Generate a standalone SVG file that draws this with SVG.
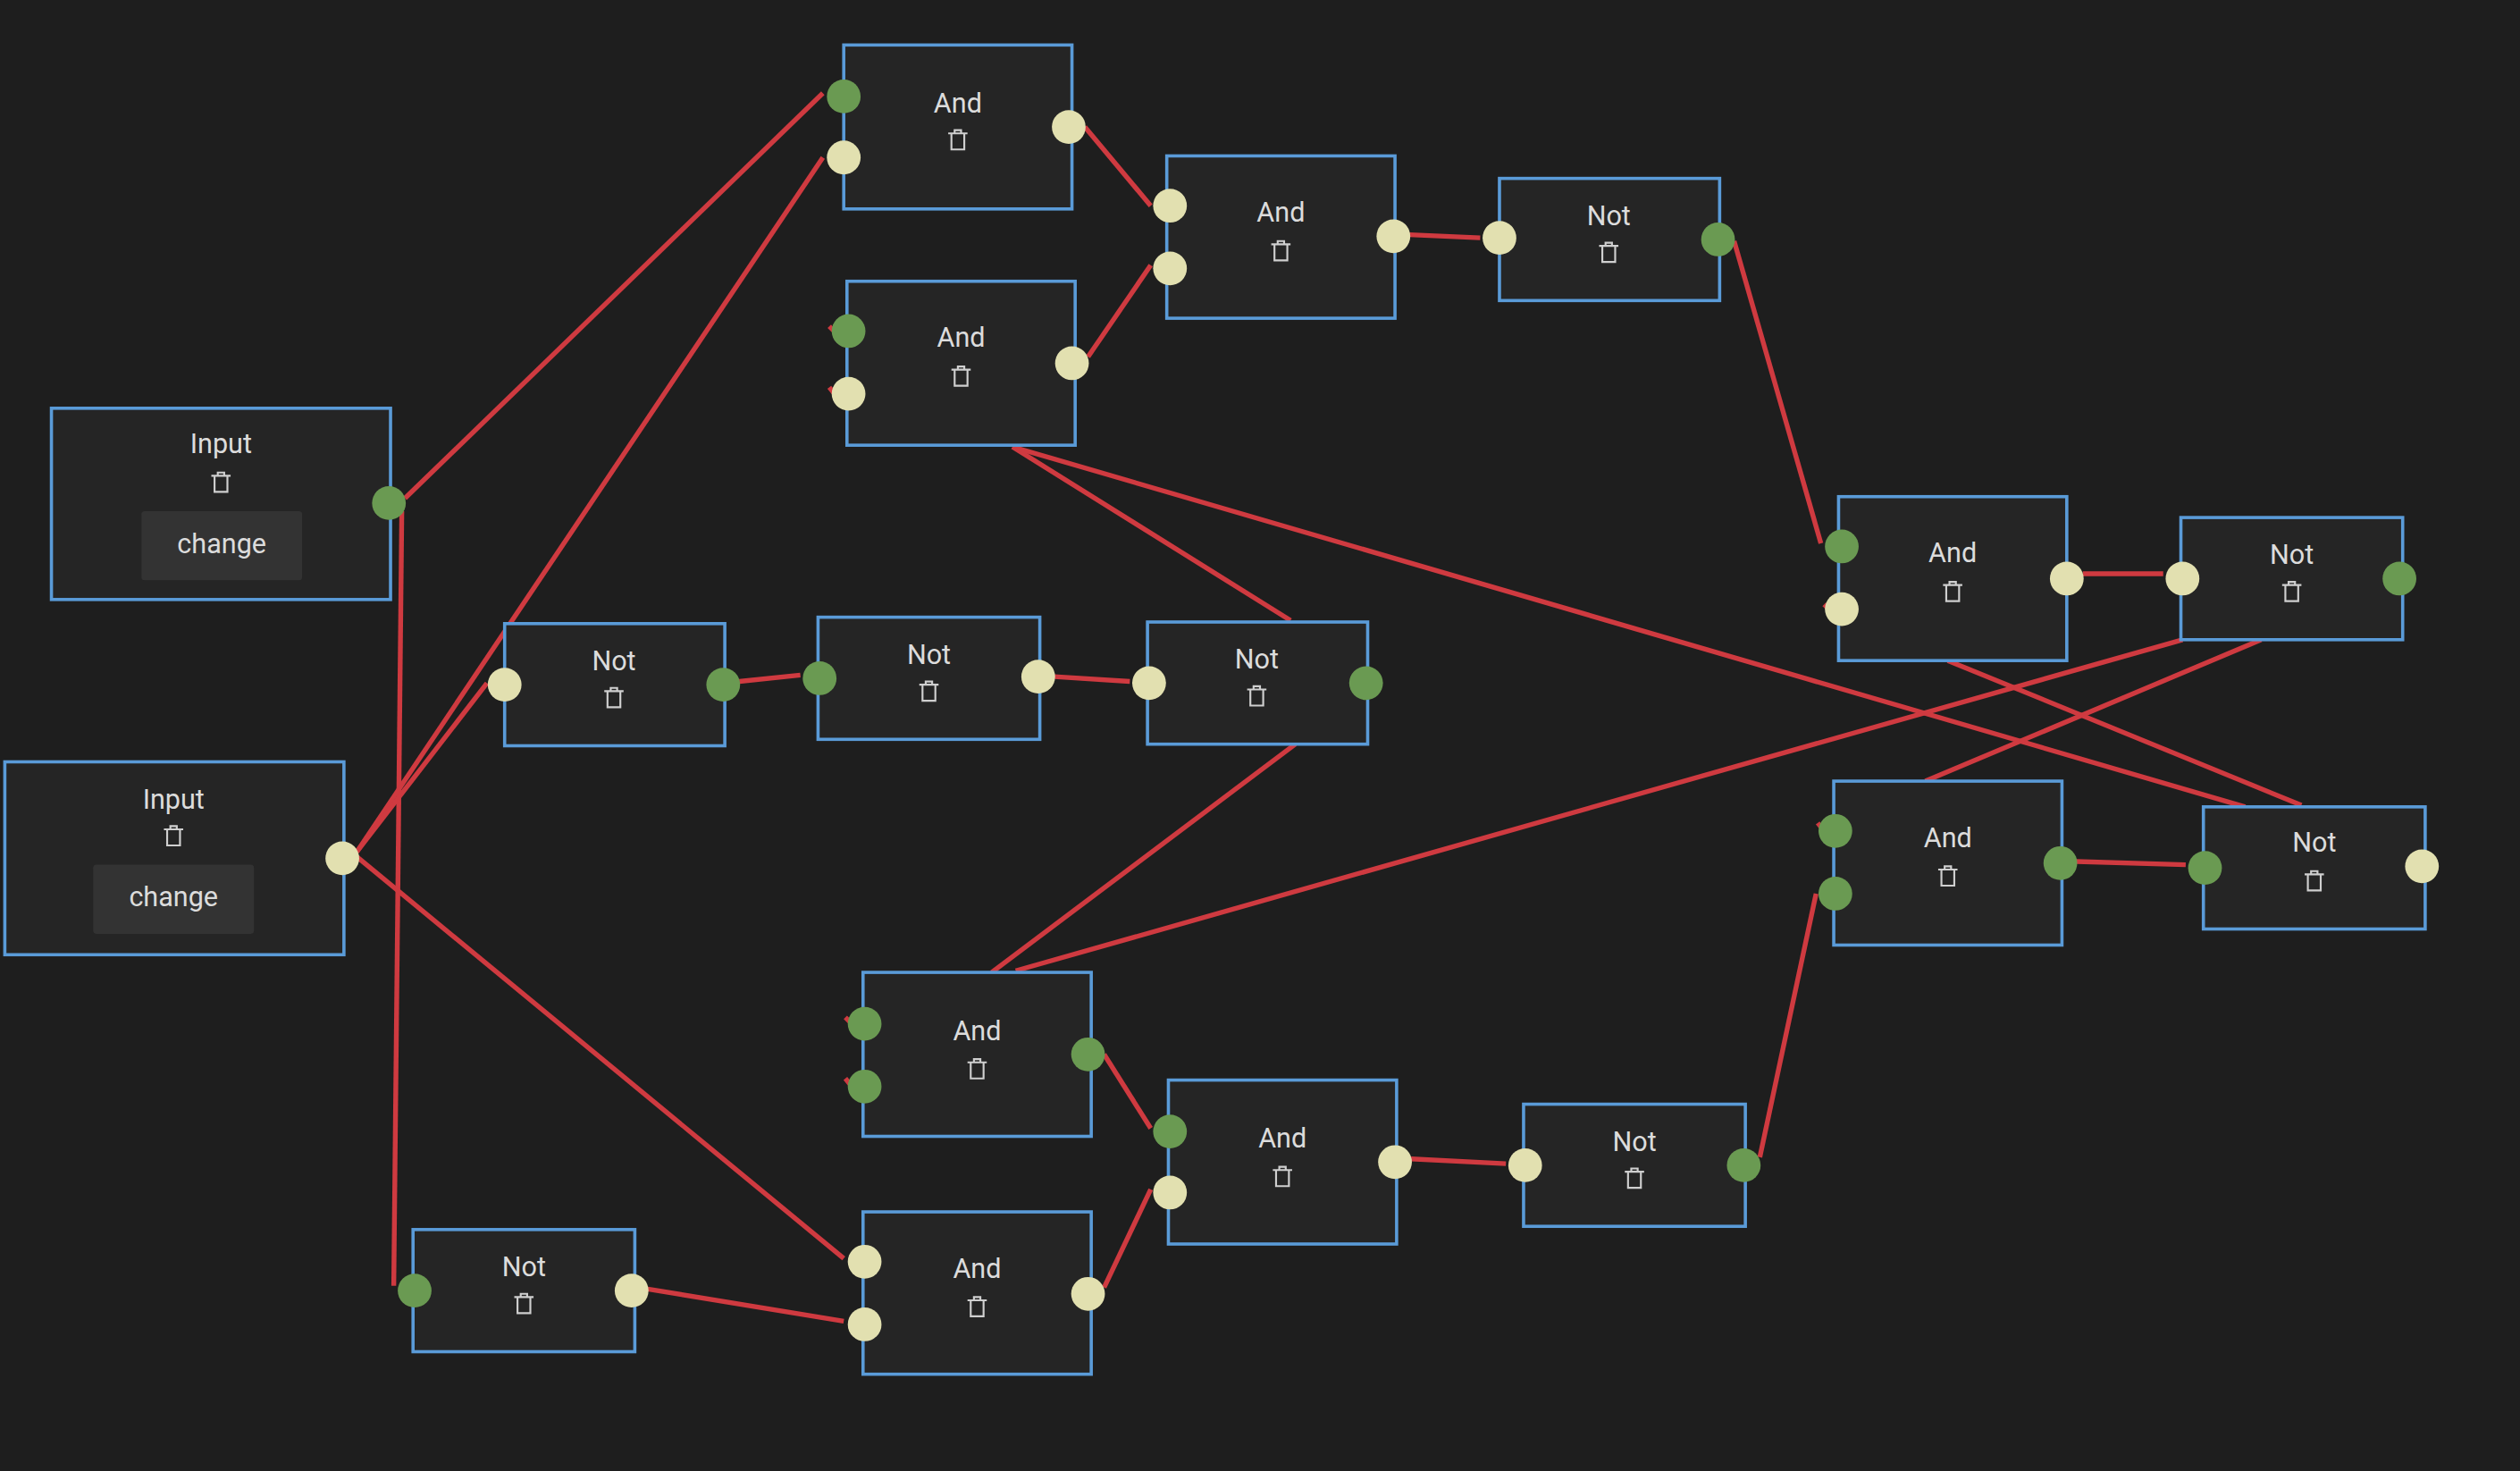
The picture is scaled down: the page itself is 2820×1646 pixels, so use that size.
<svg xmlns="http://www.w3.org/2000/svg" width="2820" height="1646" viewBox="0 0 2820 1646">
<defs>
<style>
.n{fill:#252525;stroke:#5a9bd8;stroke-width:2}
.t{font-family:"Roboto","Liberation Sans",sans-serif;font-size:17px;fill:#dcdcdc;text-anchor:middle}
.g{fill:#6a9a52}
.y{fill:#e2e0b0}
.e{stroke:#cf3a40;stroke-width:3;fill:none}
.tr{fill:none;stroke:#cfcfcf;stroke-width:1.2}
.b{fill:#333333}
</style>
<symbol id="trash" viewBox="-8 -9 16 18" overflow="visible"><path class="tr" d="M-6,-4 H6 M-4,-4 V6 H4 V-4 M-2,-4 V-6 H2 V-4"/></symbol>
</defs>
<rect width="2820" height="1646" fill="#1e1e1e"/>
<g transform="scale(1.79847)">
<g id="connectors">
<path class="e" d="M252,310 L512,58"/>
<path class="e" d="M250,318 L245,800"/>
<path class="e" d="M222,530 L512,98"/>
<path class="e" d="M222,530 L303,425"/>
<path class="e" d="M222,533 L525,783"/>
<path class="e" d="M675,79 L716,128"/>
<path class="e" d="M677,222 L716,165"/>
<path class="e" d="M877,146 L921,148"/>
<path class="e" d="M1079,150 L1133,338"/>
<path class="e" d="M1296,357 L1346,357"/>
<path class="e" d="M460,424 L498,420"/>
<path class="e" d="M656,421 L703,424"/>
<path class="e" d="M630,278 L803,386"/>
<path class="e" d="M630,278 L1397,502"/>
<path class="e" d="M806,463 L617,605"/>
<path class="e" d="M632,604 L1358,398"/>
<path class="e" d="M1407,398 L1198,486"/>
<path class="e" d="M1212,411 L1432,501"/>
<path class="e" d="M1292,536 L1360,538"/>
<path class="e" d="M687,656 L716,702"/>
<path class="e" d="M687,801 L716,740"/>
<path class="e" d="M878,721 L937,724"/>
<path class="e" d="M1095,720 L1130,556"/>
<path class="e" d="M403,802 L525,822"/>
<path class="e" d="M516,203 L520,207 M516,241 L520,246 M1135,376 L1139,380 M1131,512 L1135,517 M526,633 L530,637 M526,671 L530,676"/>
</g>
<g id="inputA"><rect class="n" x="32" y="254" width="211" height="119"/><text class="t" x="137.5" y="282">Input</text><use href="#trash" x="129.5" y="291" width="16" height="18"/><rect class="b" x="88" y="318" width="100" height="43" rx="2"/><text class="t" x="138" y="344">change</text><circle class="g" cx="242" cy="313" r="10.5"/></g>
<g id="inputB"><rect class="n" x="3" y="474" width="211" height="120"/><text class="t" x="108" y="503">Input</text><use href="#trash" x="100" y="511" width="16" height="18"/><rect class="b" x="58" y="538" width="100" height="43" rx="2"/><text class="t" x="108" y="564">change</text><circle class="y" cx="213" cy="534" r="10.5"/></g>
<g id="and1"><rect class="n" x="525" y="28" width="142" height="102"/><text class="t" x="596" y="70">And</text><use href="#trash" x="588" y="78" width="16" height="18"/><circle class="g" cx="525" cy="60" r="10.5"/><circle class="y" cx="525" cy="98" r="10.5"/><circle class="y" cx="665" cy="79" r="10.5"/></g>
<g id="and2"><rect class="n" x="726" y="97" width="142" height="101"/><text class="t" x="797" y="138">And</text><use href="#trash" x="789" y="147" width="16" height="18"/><circle class="y" cx="728" cy="128" r="10.5"/><circle class="y" cx="728" cy="167" r="10.5"/><circle class="y" cx="867" cy="147" r="10.5"/></g>
<g id="not1"><rect class="n" x="933" y="111" width="137" height="76"/><text class="t" x="1001" y="140">Not</text><use href="#trash" x="993" y="148" width="16" height="18"/><circle class="y" cx="933" cy="148" r="10.5"/><circle class="g" cx="1069" cy="149" r="10.5"/></g>
<g id="and3"><rect class="n" x="527" y="175" width="142" height="102"/><text class="t" x="598" y="216">And</text><use href="#trash" x="590" y="225" width="16" height="18"/><circle class="g" cx="528" cy="206" r="10.5"/><circle class="y" cx="528" cy="245" r="10.5"/><circle class="y" cx="667" cy="226" r="10.5"/></g>
<g id="and4"><rect class="n" x="1144" y="309" width="142" height="102"/><text class="t" x="1215" y="350">And</text><use href="#trash" x="1207" y="359" width="16" height="18"/><circle class="g" cx="1146" cy="340" r="10.5"/><circle class="y" cx="1146" cy="379" r="10.5"/><circle class="y" cx="1286" cy="360" r="10.5"/></g>
<g id="not2"><rect class="n" x="1357" y="322" width="138" height="76"/><text class="t" x="1426" y="351">Not</text><use href="#trash" x="1418" y="359" width="16" height="18"/><circle class="y" cx="1358" cy="360" r="10.5"/><circle class="g" cx="1493" cy="360" r="10.5"/></g>
<g id="not3"><rect class="n" x="314" y="388" width="137" height="76"/><text class="t" x="382" y="417">Not</text><use href="#trash" x="374" y="425" width="16" height="18"/><circle class="y" cx="314" cy="426" r="10.5"/><circle class="g" cx="450" cy="426" r="10.5"/></g>
<g id="not4"><rect class="n" x="509" y="384" width="138" height="76"/><text class="t" x="578" y="413">Not</text><use href="#trash" x="570" y="421" width="16" height="18"/><circle class="g" cx="510" cy="422" r="10.5"/><circle class="y" cx="646" cy="421" r="10.5"/></g>
<g id="not5"><rect class="n" x="714" y="387" width="137" height="76"/><text class="t" x="782" y="416">Not</text><use href="#trash" x="774" y="424" width="16" height="18"/><circle class="y" cx="715" cy="425" r="10.5"/><circle class="g" cx="850" cy="425" r="10.5"/></g>
<g id="and5"><rect class="n" x="1141" y="486" width="142" height="102"/><text class="t" x="1212" y="527">And</text><use href="#trash" x="1204" y="536" width="16" height="18"/><circle class="g" cx="1142" cy="517" r="10.5"/><circle class="g" cx="1142" cy="556" r="10.5"/><circle class="g" cx="1282" cy="537" r="10.5"/></g>
<g id="not6"><rect class="n" x="1371" y="502" width="138" height="76"/><text class="t" x="1440" y="530">Not</text><use href="#trash" x="1432" y="539" width="16" height="18"/><circle class="g" cx="1372" cy="540" r="10.5"/><circle class="y" cx="1507" cy="539" r="10.5"/></g>
<g id="and6"><rect class="n" x="537" y="605" width="142" height="102"/><text class="t" x="608" y="647">And</text><use href="#trash" x="600" y="656" width="16" height="18"/><circle class="g" cx="538" cy="637" r="10.5"/><circle class="g" cx="538" cy="676" r="10.5"/><circle class="g" cx="677" cy="656" r="10.5"/></g>
<g id="and7"><rect class="n" x="727" y="672" width="142" height="102"/><text class="t" x="798" y="714">And</text><use href="#trash" x="790" y="723" width="16" height="18"/><circle class="g" cx="728" cy="704" r="10.5"/><circle class="y" cx="728" cy="742" r="10.5"/><circle class="y" cx="868" cy="723" r="10.5"/></g>
<g id="not7"><rect class="n" x="948" y="687" width="138" height="76"/><text class="t" x="1017" y="716">Not</text><use href="#trash" x="1009" y="724" width="16" height="18"/><circle class="y" cx="949" cy="725" r="10.5"/><circle class="g" cx="1085" cy="725" r="10.5"/></g>
<g id="not8"><rect class="n" x="257" y="765" width="138" height="76"/><text class="t" x="326" y="794">Not</text><use href="#trash" x="318" y="802" width="16" height="18"/><circle class="g" cx="258" cy="803" r="10.5"/><circle class="y" cx="393" cy="803" r="10.5"/></g>
<g id="and8"><rect class="n" x="537" y="754" width="142" height="101"/><text class="t" x="608" y="795">And</text><use href="#trash" x="600" y="804" width="16" height="18"/><circle class="y" cx="538" cy="785" r="10.5"/><circle class="y" cx="538" cy="824" r="10.5"/><circle class="y" cx="677" cy="805" r="10.5"/></g>
</g>
</svg>
